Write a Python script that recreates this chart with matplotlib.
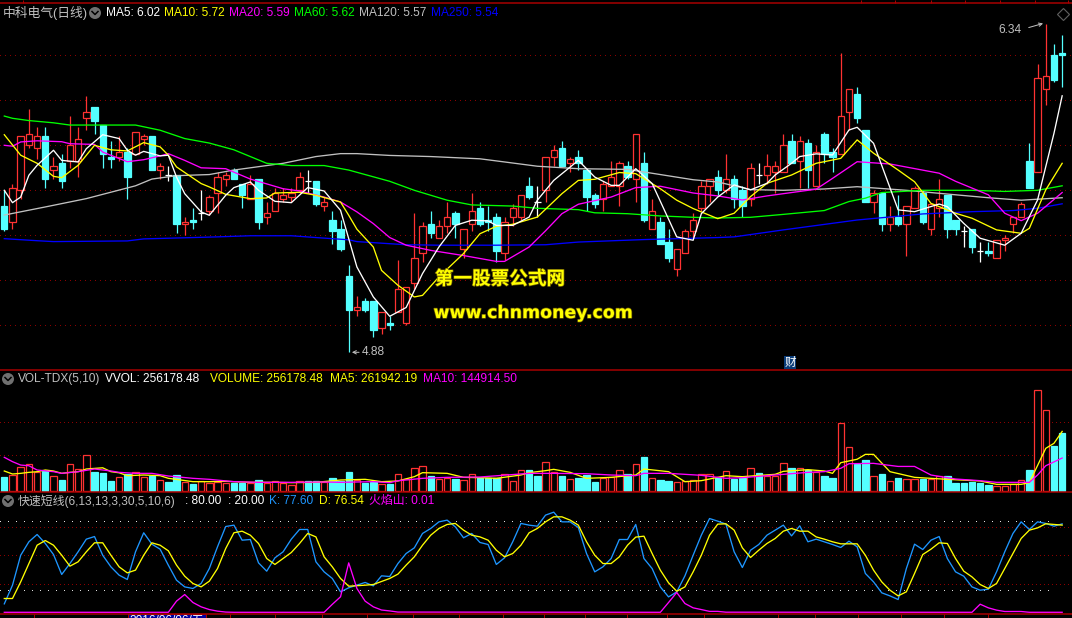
"""
K线图: 中科电气 (日线) + 成交量 + 快速短线
"""

import matplotlib
matplotlib.use('Agg')
import matplotlib.pyplot as plt
import matplotlib.patheffects as pe
from matplotlib.patches import Circle, Rectangle

plt.rcParams['font.family'] = ['Liberation Sans', 'Noto Sans CJK SC', 'DejaVu Sans']

# ---- K线 ----
opens = [5.53, 5.46, 5.60, 5.80, 5.79, 5.84, 5.69, 5.72, 5.73, 5.73,
         5.92, 5.97, 5.89, 5.75, 5.75, 5.77, 5.76, 5.83, 5.84, 5.69,
         5.67, 5.67, 5.45, 5.47, 5.50, 5.51, 5.59, 5.65, 5.69, 5.63,
         5.56, 5.65, 5.48, 5.51, 5.56, 5.57, 5.60, 5.64, 5.64, 5.53,
         5.47, 5.43, 5.22, 5.07, 5.11, 5.11, 4.99, 5.01, 5.06, 5.01,
         5.19, 5.32, 5.45, 5.39, 5.44, 5.50, 5.34, 5.45, 5.52, 5.47,
         5.48, 5.32, 5.48, 5.48, 5.62, 5.55, 5.60, 5.75, 5.79, 5.72,
         5.75, 5.69, 5.58, 5.56, 5.62, 5.62, 5.71, 5.65, 5.72, 5.43,
         5.46, 5.37, 5.25, 5.32, 5.42, 5.52, 5.62, 5.66, 5.60, 5.65,
         5.60, 5.56, 5.67, 5.67, 5.68, 5.68, 5.82, 5.73, 5.81, 5.62,
         5.85, 5.77, 5.76, 5.95, 6.03, 5.87, 5.55, 5.59, 5.45, 5.48,
         5.45, 5.52, 5.59, 5.43, 5.52, 5.58, 5.47, 5.42, 5.43, 5.33,
         5.33, 5.30, 5.38, 5.45, 5.48, 5.73, 5.68, 6.05, 6.20, 6.21]
closes = [5.43, 5.61, 5.84, 5.85, 5.84, 5.65, 5.71, 5.64, 5.80, 5.83,
          5.95, 5.91, 5.76, 5.74, 5.77, 5.66, 5.86, 5.84, 5.69, 5.71,
          5.67, 5.45, 5.46, 5.46, 5.50, 5.57, 5.66, 5.67, 5.65, 5.58,
          5.63, 5.46, 5.50, 5.59, 5.58, 5.59, 5.66, 5.64, 5.54, 5.55,
          5.42, 5.34, 5.07, 5.08, 5.07, 4.98, 5.06, 5.00, 5.16, 5.17,
          5.30, 5.44, 5.41, 5.44, 5.48, 5.45, 5.43, 5.51, 5.45, 5.46,
          5.33, 5.46, 5.52, 5.58, 5.57, 5.55, 5.75, 5.78, 5.71, 5.74,
          5.72, 5.57, 5.54, 5.63, 5.66, 5.72, 5.66, 5.85, 5.47, 5.51,
          5.36, 5.30, 5.34, 5.42, 5.47, 5.62, 5.65, 5.60, 5.65, 5.56,
          5.53, 5.70, 5.67, 5.71, 5.71, 5.80, 5.72, 5.82, 5.69, 5.77,
          5.76, 5.75, 5.93, 6.05, 5.92, 5.55, 5.59, 5.45, 5.48, 5.45,
          5.53, 5.61, 5.46, 5.54, 5.56, 5.43, 5.43, 5.42, 5.35, 5.33,
          5.32, 5.38, 5.39, 5.48, 5.54, 5.61, 6.10, 6.11, 6.09, 6.20]
highs = [5.60, 5.63, 5.84, 5.96, 5.88, 5.88, 5.75, 5.76, 5.93, 5.88,
         6.02, 5.97, 5.89, 5.82, 5.84, 5.79, 5.86, 5.85, 5.84, 5.72,
         5.71, 5.67, 5.48, 5.52, 5.60, 5.58, 5.68, 5.68, 5.70, 5.63,
         5.67, 5.65, 5.55, 5.61, 5.61, 5.61, 5.68, 5.69, 5.64, 5.57,
         5.51, 5.47, 5.27, 5.13, 5.12, 5.11, 5.06, 5.04, 5.29, 5.17,
         5.50, 5.46, 5.51, 5.47, 5.55, 5.51, 5.43, 5.59, 5.55, 5.53,
         5.50, 5.48, 5.54, 5.58, 5.66, 5.62, 5.75, 5.80, 5.82, 5.75,
         5.78, 5.69, 5.59, 5.64, 5.73, 5.73, 5.73, 5.85, 5.77, 5.56,
         5.48, 5.43, 5.34, 5.43, 5.50, 5.64, 5.65, 5.69, 5.76, 5.67,
         5.62, 5.72, 5.72, 5.76, 5.73, 5.85, 5.85, 5.84, 5.83, 5.80,
         5.86, 5.79, 6.21, 6.05, 6.06, 5.87, 5.60, 5.59, 5.53, 5.58,
         5.53, 5.62, 5.60, 5.54, 5.65, 5.58, 5.47, 5.44, 5.43, 5.37,
         5.37, 5.38, 5.40, 5.48, 5.55, 5.81, 6.16, 6.34, 6.25, 6.29]
lows = [5.42, 5.43, 5.56, 5.79, 5.74, 5.61, 5.65, 5.61, 5.70, 5.66,
        5.87, 5.85, 5.70, 5.70, 5.73, 5.56, 5.76, 5.80, 5.69, 5.65,
        5.64, 5.41, 5.40, 5.43, 5.47, 5.49, 5.50, 5.62, 5.65, 5.52,
        5.56, 5.43, 5.45, 5.51, 5.55, 5.55, 5.59, 5.59, 5.53, 5.51,
        5.36, 5.33, 4.88, 5.04, 5.06, 4.95, 4.96, 4.98, 5.06, 5.00,
        5.16, 5.28, 5.39, 5.39, 5.41, 5.39, 5.30, 5.42, 5.44, 5.42,
        5.28, 5.29, 5.44, 5.47, 5.56, 5.48, 5.55, 5.71, 5.71, 5.68,
        5.69, 5.51, 5.52, 5.51, 5.62, 5.53, 5.65, 5.55, 5.46, 5.43,
        5.36, 5.28, 5.22, 5.32, 5.39, 5.51, 5.55, 5.58, 5.59, 5.52,
        5.48, 5.53, 5.63, 5.63, 5.59, 5.68, 5.72, 5.61, 5.61, 5.62,
        5.72, 5.68, 5.76, 5.87, 5.90, 5.55, 5.50, 5.42, 5.42, 5.44,
        5.31, 5.52, 5.45, 5.40, 5.48, 5.39, 5.40, 5.35, 5.32, 5.28,
        5.31, 5.30, 5.33, 5.41, 5.48, 5.61, 5.68, 5.98, 6.08, 6.06]

# ---- 均线 (下标, 数值) ----
ma5_idx = [0, 1, 2, 3, 4, 6, 7, 9, 10, 12, 14, 15, 16, 17, 19, 20, 21, 22, 24, 25,
           27, 28, 30, 31, 33, 35, 37, 39, 41, 43, 45, 47, 49, 51, 53, 55, 57, 59, 60, 62,
           64, 65, 67, 70, 72, 74, 75, 77, 79, 82, 84, 85, 87, 89, 91, 93, 94, 96, 97, 99,
           101, 103, 104, 106, 109, 111, 114, 115, 117, 119, 122, 124, 126, 128, 129]
ma5 = [5.60, 5.545, 5.57, 5.667, 5.711, 5.778, 5.733, 5.726, 5.785, 5.847, 5.83, 5.778, 5.756, 5.773, 5.753,
       5.756, 5.659, 5.585, 5.504, 5.489, 5.578, 5.612, 5.637, 5.60, 5.551, 5.545, 5.612, 5.597, 5.511, 5.259,
       5.126, 5.04, 5.079, 5.23, 5.348, 5.444, 5.467, 5.464, 5.444, 5.444, 5.481, 5.556, 5.644, 5.733, 5.659,
       5.622, 5.622, 5.696, 5.63, 5.393, 5.378, 5.496, 5.57, 5.624, 5.602, 5.631, 5.668, 5.72, 5.75, 5.762,
       5.757, 5.868, 5.88, 5.809, 5.513, 5.505, 5.539, 5.527, 5.453, 5.387, 5.356, 5.409, 5.557, 5.853, 6.02]
ma10_idx = [0, 2, 4, 6, 7, 9, 11, 13, 15, 17, 19, 20, 21, 24, 25, 27, 30, 32, 33, 36, 38, 41, 42, 43,
            45, 46, 48, 50, 51, 53, 56, 58, 60, 62, 65, 68, 70, 72, 75, 77, 80, 82, 84, 87,
            89, 91, 93, 96, 99, 102, 104, 106, 109, 111, 113, 116, 118, 121, 124, 125, 127, 129]
ma10 = [5.847, 5.756, 5.72, 5.662, 5.656, 5.711, 5.80, 5.78, 5.775, 5.812, 5.793, 5.756, 5.704, 5.63, 5.615,
        5.582, 5.563, 5.566, 5.588, 5.591, 5.578, 5.548, 5.489, 5.427, 5.348, 5.244, 5.178, 5.126, 5.133, 5.215,
        5.319, 5.407, 5.44, 5.449, 5.481, 5.585, 5.644, 5.649, 5.679, 5.674, 5.607, 5.556, 5.519, 5.474, 5.498,
        5.572, 5.631, 5.668, 5.72, 5.742, 5.824, 5.765, 5.69, 5.638, 5.542, 5.498, 5.476, 5.424, 5.409, 5.431,
        5.602, 5.72]
ma20_idx = [0, 1, 2, 4, 7, 8, 11, 12, 15, 17, 19, 20, 22, 24, 27, 30, 34, 36, 39, 41, 43,
            45, 47, 49, 52, 56, 60, 61, 64, 66, 68, 70, 74, 77, 80, 84, 87,
            90, 93, 99, 101, 104, 108, 114, 116, 120, 122, 124, 126, 129]
ma20 = [5.80, 5.796, 5.815, 5.82, 5.816, 5.807, 5.804, 5.77, 5.727, 5.736, 5.753, 5.763, 5.733, 5.70, 5.696,
        5.65, 5.607, 5.597, 5.57, 5.548, 5.504, 5.452, 5.39, 5.356, 5.333, 5.31, 5.284, 5.284, 5.348, 5.42,
        5.496, 5.538, 5.57, 5.612, 5.618, 5.588, 5.575, 5.557, 5.575, 5.605, 5.653, 5.727, 5.717, 5.676, 5.64,
        5.58, 5.498, 5.465, 5.498, 5.59]
ma60_idx = [0, 1, 3, 6, 8, 16, 19, 22, 25, 28, 32, 35, 39, 42, 43, 47, 50, 54, 57, 62, 65, 70, 72, 76, 80, 84, 87,
            91, 95, 100, 103, 105, 107, 112, 118, 122, 126, 129]
ma60 = [5.93, 5.92, 5.91, 5.90, 5.89, 5.89, 5.867, 5.83, 5.81, 5.78, 5.72, 5.71, 5.71, 5.69, 5.68, 5.64, 5.60,
        5.556, 5.535, 5.53, 5.52, 5.514, 5.50, 5.496, 5.486, 5.48, 5.477, 5.48, 5.493, 5.51, 5.55, 5.565, 5.59,
        5.60, 5.60, 5.595, 5.60, 5.62]
ma120_idx = [0, 5, 10, 16, 18, 21, 25, 28, 32, 34, 38, 41, 43, 47, 52, 58, 61, 65, 70, 76, 80, 84, 87,
             91, 95, 100, 104, 110, 116, 120, 124, 129]
ma120 = [5.49, 5.526, 5.563, 5.62, 5.65, 5.665, 5.67, 5.69, 5.71, 5.72, 5.75, 5.763, 5.763, 5.755, 5.75, 5.74,
         5.726, 5.707, 5.696, 5.693, 5.67, 5.647, 5.637, 5.603, 5.60, 5.606, 5.616, 5.60, 5.58, 5.567, 5.556, 5.567]
ma250_idx = [0, 4, 6, 15, 17, 21, 26, 30, 35, 38, 42, 43, 49, 53, 60, 66, 70, 78, 82, 87, 89, 95, 104, 112, 118,
             123, 126, 129]
ma250 = [5.385, 5.376, 5.372, 5.375, 5.384, 5.388, 5.393, 5.398, 5.398, 5.39, 5.38, 5.372, 5.358, 5.356, 5.356,
         5.358, 5.37, 5.381, 5.385, 5.39, 5.393, 5.424, 5.468, 5.495, 5.505, 5.51, 5.52, 5.54]

# ---- 成交量 (千手) ----
volumes = [61.5, 70.3, 104, 117, 82, 89.4, 64.5, 48.3, 117, 95.2,
           157, 83.5, 79.1, 44, 60, 73.3, 85, 60, 67.4, 46.9,
           39.6, 70.3, 38.1, 30.8, 42.5, 33.7, 38.1, 35.2, 36.6, 35.2,
           35.2, 48.3, 33.7, 42.5, 33.7, 24.9, 42.5, 44, 44, 38.1,
           57.1, 42.5, 83.5, 49.8, 36.6, 39.6, 32.2, 30.8, 73.3, 52.7,
           99.6, 108, 65.9, 52.7, 58.6, 52.7, 49.8, 73.3, 58.6, 55.7,
           55.7, 73.3, 45.4, 90.8, 92.3, 67.4, 126, 82, 65.9, 51.3,
           55.7, 70.3, 39.6, 55.7, 63, 90.8, 74.7, 117, 149, 55.7,
           48.3, 44, 38.1, 44, 46.9, 73.3, 73.3, 55.7, 86.4, 52.7,
           58.6, 99.6, 79.1, 65.9, 65.9, 122, 101, 99.6, 92.3, 82,
           65.9, 57.1, 297, 192, 120, 136, 64.5, 74.7, 42.5, 57.1,
           51.3, 54.2, 51.3, 52.7, 64.5, 65.9, 35.2, 35.2, 39.6, 36.6,
           27.8, 23.4, 20.5, 30.8, 46.9, 92.3, 442, 355, 198, 256.18]
# 柱子颜色: 1 红(空心) 0 青(实心)
vol_up = [0, 1, 1, 1, 1, 0, 1, 0, 1, 1,
          1, 0, 0, 0, 1, 0, 1, 1, 0, 1,
          0, 0, 1, 0, 1, 1, 1, 1, 0, 0,
          1, 0, 1, 1, 1, 1, 1, 0, 0, 1,
          0, 0, 0, 1, 0, 0, 1, 0, 1, 1,
          1, 1, 0, 1, 1, 0, 1, 1, 0, 0,
          0, 1, 1, 1, 0, 0, 1, 1, 0, 1,
          0, 0, 0, 1, 1, 1, 0, 1, 0, 1,
          0, 0, 1, 1, 1, 1, 1, 0, 1, 0,
          0, 1, 0, 1, 1, 1, 0, 1, 0, 1,
          0, 0, 1, 1, 0, 0, 1, 0, 1, 0,
          1, 1, 0, 1, 1, 0, 0, 0, 0, 0,
          0, 1, 1, 1, 1, 0, 1, 1, 0, 0]
vol_ma5_idx = [0, 1, 2, 3, 4, 5, 6, 7, 8, 9, 10, 12, 13, 14, 15, 17, 19, 20, 23, 25, 27, 30, 33, 35, 38, 41, 44, 46,
               48, 50, 51, 54, 56, 58, 60, 63, 64, 66, 67, 69, 71, 74, 77, 78, 81, 83, 85, 88, 90, 94, 95, 98, 100,
               101, 102, 104, 105, 106, 108, 111, 115, 119, 121, 124, 125, 127, 128, 129]
vol_ma5 = [87.9, 74.7, 77.6, 82, 84.9, 92.3, 87.9, 77.6, 82, 84.9, 96.7, 102, 85, 80.1, 67.4, 70.3, 67.4, 55.8,
           41, 41, 42.5, 38.1, 38.1, 36.6, 38.1, 48.3, 51.3, 41, 44, 63, 80.6, 77.6, 60, 58.6, 55.7, 70.3, 80.6,
           89.4, 95.2, 82, 55.7, 60, 70.3, 96.7, 85, 41, 45.4, 67.4, 63, 73.3, 86.4, 93.8, 87.9, 77.6, 124.5,
           139.6, 161, 161, 85, 60, 51.3, 44, 29.3, 29.3, 36.6, 187.5, 209.6, 261.94]
vol_ma10_idx = [0, 1, 2, 3, 4, 6, 7, 9, 11, 13, 14, 16, 18, 20, 23, 25, 28, 31, 35, 39, 41, 45, 47, 48, 51, 54, 58,
                64, 67, 71, 74, 77, 78, 81, 85, 88, 90, 94, 98, 100, 102, 103, 106, 109, 111, 113, 116, 119, 121,
                125, 126, 127, 129]
vol_ma10 = [148, 129, 114, 111, 92.3, 84.9, 77.6, 84.9, 96.7, 87.9, 82, 77.6, 77.6, 65.9, 55.7, 51.3, 41, 38.1,
            38.1, 39.6, 38.1, 41, 36.6, 45, 55.7, 60, 61.5, 77.6, 77.6, 76, 70.3, 67.4, 77.6, 77.6, 68.9, 55.7,
            58.6, 70.3, 82, 85, 99.6, 120, 121.5, 108, 108, 70.3, 52.7, 45.4, 38, 38, 70.3, 111, 144.91]

# ---- 快速短线 ----
k_idx = list(range(42)) + [42] + list(range(44, 130))
k_vals = [7.4, 23.8, 50.1, 61.9, 68.3, 60.4, 50.7, 33.2, 42.8, 53.1, 64.2, 66.5, 50.1, 39.9, 32.6, 28.8,
          53.1, 69.8, 59.8, 55.4, 41.4, 28.2, 22.3, 20.9, 25.3, 38.4, 57.5, 75.3, 76.5, 63.3, 63.9, 43.4,
          36.1, 47.8, 53.1, 64.2, 72.7, 72.7, 44.3, 35.5, 29.7, 18, 21.5, 26.2, 23.2, 32, 31.4, 42.8, 51.6,
          56.6, 69.2, 73.6, 79.4, 80.9, 75, 65.4, 69.2, 61.3, 59.5, 42, 47.8, 61.9, 78, 76.5, 75.6, 85.3,
          87.9, 79.4, 79.4, 74.4, 51.6, 35.5, 39.9, 47.2, 63.9, 63.9, 77.1, 47.2, 38.4, 22.3, 13.5, 17.9,
          32, 50.1, 67.7, 82.3, 80, 77.4, 53.1, 39.3, 54.5, 59.5, 67.7, 72.1, 76.5, 67.1, 75.9, 61.9, 64.2,
          61.9, 59.5, 56.9, 62.4, 57.5, 34.1, 26.7, 17.1, 14.4, 11.2, 38.4, 59.8, 55.1, 63.3, 66.5, 47.2,
          35.5, 31.7, 22.3, 19.4, 20.3, 35.5, 53.1, 69.2, 79.4, 72.7, 79.4, 78, 75.6, 77.6]
d_idx = list(range(43)) + [44, 45] + list(range(47, 130))
d_vals = [12.1, 12.1, 26.7, 42.8, 58.9, 63, 58.9, 50.1, 40.5, 44.3, 53.1, 61, 61, 50.1, 39.9, 34.6, 37, 50.1,
          61, 58.9, 54, 41.4, 31.7, 25.3, 22.3, 27.3, 38.4, 56, 69.8, 71.2, 67.7, 60.4, 47.2, 42, 47.2, 52.5,
          60.4, 69.2, 66.2, 48.7, 39.9, 29.7, 22.9, 23.8, 24.4, 29.7, 33.5, 41.4, 48.7, 58.9, 67.7, 73.6, 77.1,
          78, 72.1, 67.7, 66.2, 63.3, 54.5, 48.7, 51.6, 58.9, 69.8, 73.6, 79.4, 83.8, 83.8, 80.9, 76.5, 61.9,
          50.1, 42.8, 42.8, 48.7, 58.9, 66, 66.8, 51.6, 37, 25.9, 18.5, 22.3, 35.5, 50.1, 67.7, 77.4, 77.7, 72.1,
          56.6, 48.1, 54.5, 60.4, 64.8, 71.2, 73.6, 71.2, 71.2, 66.2, 64.2, 61.9, 60.1, 60.1, 60.1, 50.1, 37,
          26.7, 19.4, 14.4, 18, 34.1, 50.7, 55.4, 61, 60.4, 47.2, 36.1, 31.1, 24.4, 20.9, 25.3, 38.4, 51.6,
          64.8, 72.1, 74.1, 77.7, 77.1, 76.54]
flame_idx = [0, 20, 21, 22, 23, 24, 25, 26, 27, 28, 39, 40, 41, 42, 43, 44, 45, 46, 47, 48, 80, 81, 82, 83, 84,
             85, 86, 87, 88, 118, 119, 120, 121, 122, 124, 125, 129]
flame = [0, 0, 9.8, 15.6, 8.6, 4.8, 2.4, 1, 0.2, 0, 0, 7, 13.6, 43.4, 20.9, 9.8, 4.8, 2, 1.2, 0.2, 0, 8.6, 17.4,
         7.7, 3.9, 2.4, 0.8, 0.8, 0.1, 0, 7.1, 3.9, 1.9, 0.7, 0.7, 0.01, 0.01]

# 刻度位置 (K线下标)
price_grid = [5.0, 5.2, 5.4, 5.6, 5.8, 6.0, 6.2]
vol_grid = [157, 305]
kd_grid = [25, 50, 75]
kd_lines = [20, 80]
top_ticks = [2.3, 104.5, 108.6, 113, 117.2, 121.4, 125.7, 129.7]
bottom_ticks = [3.6, 15.2, 24.6, 27.5, 33, 38.7, 44.2, 49.8, 55.4, 60.8, 65.8, 70.8, 75.9, 80.8, 85.3, 94.4,
                98.9, 104.1, 109.4, 114.6, 119.9]

RED = '#ff3232'
CYAN = '#54ffff'
AXIS_RED = '#a80000'
GRID_RED = '#8c0000'
W, H = 1072, 618
PX = 0.72   # 1 像素的线宽 (磅)
LINE = 0.95  # 指标线
EDGE = 0.9   # K线边框和影线

fig = plt.figure(figsize=(W / 100, H / 100), dpi=100, facecolor='black')


def panel(y0, y1):
    ax = fig.add_axes([0, 1 - y1 / H, 1, (y1 - y0) / H], facecolor='black')
    ax.set_xlim(-0.524, 130.2)
    for s in ax.spines.values():
        s.set_visible(False)
    ax.spines['top'].set_visible(True)
    ax.spines['top'].set_color(AXIS_RED)
    ax.spines['top'].set_linewidth(1.1)
    ax.set_yticks([])
    ax.set_xticks([])
    return ax


ax1 = panel(3, 370)
ax2 = panel(370, 492)
ax3 = panel(492, 614)
ax1.set_ylim(4.8013, 6.4325)
ax2.set_ylim(-4.4, 531.9)
ax3.set_ylim(-1.5, 105.6)
x = list(range(len(closes)))

# 网格
for p in price_grid:
    ax1.axhline(p, color=GRID_RED, lw=PX, ls=(0, (1, 5)), zorder=1, antialiased=False)
for v in vol_grid:
    ax2.axhline(v, color=GRID_RED, lw=PX, ls=(0, (1, 3)), zorder=1, antialiased=False)
for v in kd_grid:
    ax3.axhline(v, color=GRID_RED, lw=PX, ls=(0, (1, 3)), zorder=1, antialiased=False)
for v in kd_lines:
    ax3.axhline(v, xmax=0.985, color='#e0e0e0', lw=PX, ls=(0, (1, 7)), zorder=1, antialiased=False)

# K线
for i in x:
    o, c = opens[i], closes[i]
    col = RED if c > o else (CYAN if c < o else 'white')
    ax1.vlines(i, lows[i], highs[i], color=col, lw=EDGE, zorder=2)
    ax1.bar(i, abs(c - o), bottom=min(o, c), width=0.78,
            facecolor='black' if c > o else col, edgecolor=col, lw=EDGE, zorder=3)

# 均线
for xs, ys, col in [(ma250_idx, ma250, '#0000ff'), (ma120_idx, ma120, '#c0c0c0'), (ma60_idx, ma60, '#00ff00'),
                    (ma20_idx, ma20, '#ff00ff'), (ma10_idx, ma10, '#ffff00'), (ma5_idx, ma5, '#ffffff')]:
    ax1.plot(xs, ys, color=col, lw=LINE, zorder=4)

# 成交量
for i in x:
    col = RED if vol_up[i] else CYAN
    ax2.bar(i, volumes[i], width=0.78, facecolor='black' if vol_up[i] else col, edgecolor=col, lw=EDGE, zorder=3)
ax2.plot(vol_ma5_idx, vol_ma5, color='#ffff00', lw=LINE, zorder=4)
ax2.plot(vol_ma10_idx, vol_ma10, color='#ff00ff', lw=LINE, zorder=4)

# 快速短线
ax3.plot(k_idx, k_vals, color='#1e96ff', lw=LINE, zorder=3)
ax3.plot(d_idx, d_vals, color='#ffff00', lw=LINE, zorder=4)
ax3.plot(flame_idx, flame, color='#ff00ff', lw=LINE, zorder=5)

# 上下刻度
ax1.tick_params(axis='x', top=True, bottom=False, labelbottom=False, length=2.2, width=PX, color=AXIS_RED)
ax1.set_xticks(top_ticks)
ax3.spines['bottom'].set_visible(True)
ax3.spines['bottom'].set_color(AXIS_RED)
ax3.spines['bottom'].set_linewidth(1.1)
ax3.tick_params(axis='x', length=2.6, width=PX, color=AXIS_RED, labelbottom=False)
ax3.set_xticks(bottom_ticks)

# 覆盖层: 文字和小图标用像素坐标
top = fig.add_axes([0, 0, 1, 1], facecolor='none')
top.set_xlim(0, W)
top.set_ylim(H, 0)
top.axis('off')


def label(px, py, s, col, size=8.6):
    top.text(px, py, s, color=col, fontsize=size, va='center', ha='left')


def chevron(px, py):
    top.add_patch(Circle((px, py), 6, facecolor='#707070', edgecolor='none'))
    top.plot([px - 3, px, px + 3], [py - 1.5, py + 1.5, py - 1.5], color='black', lw=1.1)


label(3, 13, '中科电气(日线)', '#c0c0c0', 9.2)
chevron(95, 13)
label(106, 13, 'MA5: 6.02', '#ffffff')
label(164, 13, 'MA10: 5.72', '#ffff00')
label(229, 13, 'MA20: 5.59', '#ff00ff')
label(294, 13, 'MA60: 5.62', '#00ff00')
label(359, 13, 'MA120: 5.57', '#c0c0c0')
label(431, 13, 'MA250: 5.54', '#0000ff')

chevron(8, 379)
label(18, 379, 'VOL-TDX(5,10)', '#c0c0c0')
label(105, 379, 'VVOL: 256178.48', '#ffffff')
label(210, 379, 'VOLUME: 256178.48', '#ffff00')
label(330, 379, 'MA5: 261942.19', '#ffff00')
label(423, 379, 'MA10: 144914.50', '#ff00ff')

chevron(8, 501)
label(18, 501, '快速短线(6,13,13,3,30,5,10,6)', '#c0c0c0')
label(185, 501, ': 80.00', '#ffffff')
label(228, 501, ': 20.00', '#ffffff')
label(269, 501, 'K: 77.60', '#1e96ff')
label(319, 501, 'D: 76.54', '#ffff00')
label(369, 501, '火焰山: 0.01', '#ff00ff')

# 最高最低标注
ax1.annotate('', xy=(42.05, 4.88), xytext=(43.6, 4.88),
             arrowprops=dict(arrowstyle='->', color='#c0c0c0', lw=PX, mutation_scale=6))
top.text(362, 352, '4.88', color='#c0c0c0', fontsize=8.6, va='center', ha='left')
ax1.annotate('', xy=(127.0, 6.345), xytext=(124.6, 6.32),
             arrowprops=dict(arrowstyle='->', color='#c0c0c0', lw=PX, mutation_scale=6))
top.text(998, 30, '6.34', color='#c0c0c0', fontsize=8.6, va='center', ha='left')
top.plot([1063], [14], marker='D', ms=6.5, mfc='none', mec='#606060', mew=0.8)

# 财 标记
top.add_patch(Rectangle((784, 356), 12, 13, facecolor='#0a3c78', edgecolor='none'))
top.text(790, 362.5, '财', color='white', fontsize=8.4, va='center', ha='center')

# 底部日期框 (只露出上沿)
top.add_patch(Rectangle((128, 614), 78, 6, facecolor='#0000a0', edgecolor=AXIS_RED, lw=PX))
top.text(167, 615.5, '2016/06/06/五', color='white', fontsize=8.6, va='top', ha='center')

# 水印
edge = [pe.withStroke(linewidth=1.0, foreground='#6a5a00')]
top.text(500, 279, '第一股票公式网', color='#ffff00', fontsize=13.4, fontweight='bold', family='Noto Sans CJK SC',
         va='center', ha='center', path_effects=edge)
top.text(533, 313, 'www.chnmoney.com', color='#ffff00', fontsize=12.5, fontweight='bold', family='DejaVu Sans',
         va='center', ha='center', path_effects=edge)

fig.savefig('out.png', dpi=100, facecolor='black')
